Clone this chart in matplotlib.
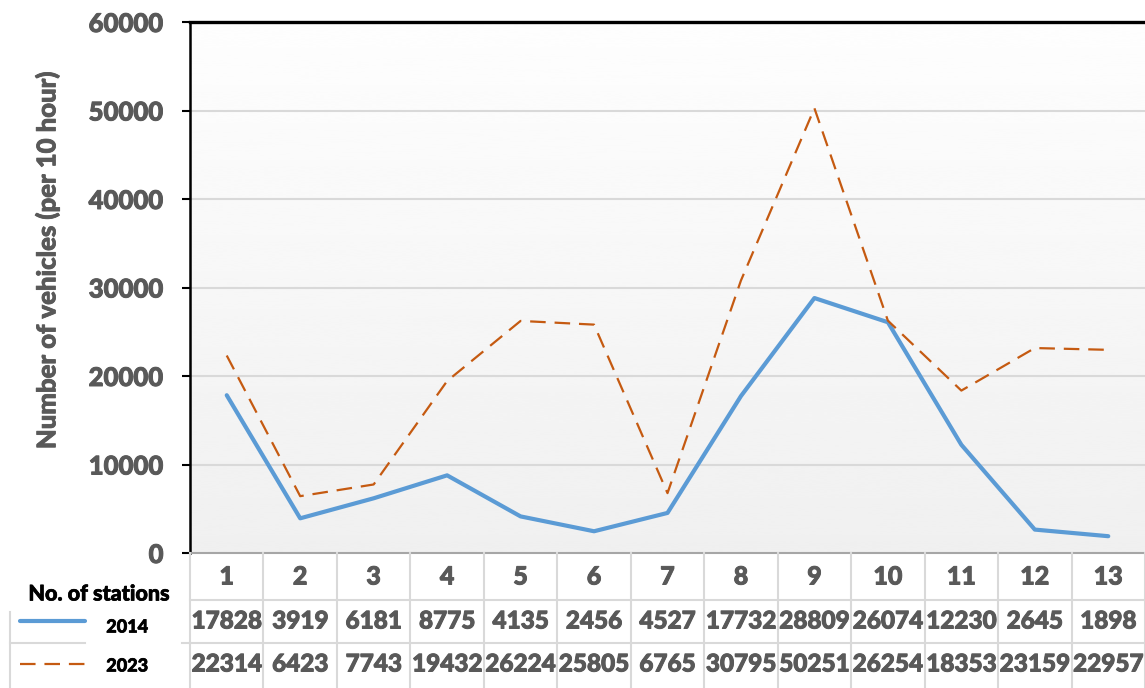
import numpy as np
import matplotlib
matplotlib.use("Agg")
import matplotlib.pyplot as plt
import matplotlib.patheffects as pe
from matplotlib.lines import Line2D

stations = ["1", "2", "3", "4", "5", "6", "7", "8", "9", "10", "11", "12", "13"]
vehicles_2014 = [17828, 3919, 6181, 8775, 4135, 2456, 4527, 17732, 28809, 26074, 12230, 2645, 1898]
vehicles_2023 = [22314, 6423, 7743, 19432, 26224, 25805, 6765, 30795, 50251, 26254, 18353, 23159, 22957]
series_names = ["2014", "2023"]
y_ticks = [0, 10000, 20000, 30000, 40000, 50000, 60000]

plt.rcParams['font.family'] = ['Lato', 'DejaVu Sans']
plt.rcParams['font.weight'] = 'black'

W, H = 1145, 688
fig = plt.figure(figsize=(W / 100, H / 100), dpi=100)

def fx(px):
    return px / W

def fy(py):
    return 1 - py / H

TXT = "#595959"
GRID = "#d9d9d9"
BLUE = "#5B9BD5"
ORANGE = "#C55A11"

def heavy(color, w=0.7):
    return [pe.withStroke(linewidth=w, foreground=color)]

x_left, x_right = 190, 1145
y_top, y_bottom = 22, 553
ax = fig.add_axes([fx(x_left), fy(y_bottom), fx(x_right - x_left), (y_bottom - y_top) / H])

n = len(stations)
x = np.arange(1, n + 1)
ax.set_xlim(0.5, n + 0.5)
ax.set_ylim(0, 60000)

# soft vertical gradient in the plot area
grad = np.linspace(0.94, 0.995, 256).reshape(-1, 1)
ax.imshow(grad, extent=[0.5, n + 0.5, 0, 60000], aspect='auto', origin='lower',
          cmap='gray', vmin=0, vmax=1, zorder=0, interpolation='bicubic')

for v in y_ticks[1:-1]:
    ax.axhline(v, color=GRID, lw=1.5, zorder=1)

ax.plot(x, vehicles_2014, color=BLUE, lw=3.0, solid_capstyle='round', zorder=3)
ax.plot(x, vehicles_2023, color=ORANGE, lw=1.6, ls=(0, (7, 4)), zorder=3)

ax.set_yticks(y_ticks)
ax.set_yticklabels([str(v) for v in y_ticks], fontsize=18.5, color=TXT, fontweight='black')
for t in ax.get_yticklabels():
    t.set_path_effects(heavy(TXT))
ax.tick_params(axis='y', length=6, width=1.5, color='black', pad=13)
ax.set_xticks([])
for s in ['right', 'bottom']:
    ax.spines[s].set_visible(False)
ax.spines['left'].set_linewidth(1.8)
ax.spines['top'].set_linewidth(2.4)

fig.text(fx(47), fy(260), "Number of vehicles (per 10 hour)", rotation=90,
         ha='center', va='center', fontsize=18.5, color=TXT, fontweight='black',
         path_effects=heavy(TXT, 0.6))

# data table below the plot
col_w = (x_right - x_left) / n
table_lines = [Line2D([fx(x_left), fx(x_right)], [fy(553), fy(553)], color="#a6a6a6", lw=1.5)]
for ry in [600, 643]:
    table_lines.append(Line2D([fx(x_left), fx(x_right)], [fy(ry), fy(ry)], color=GRID, lw=1.5))
for k in range(n + 1):
    xx = x_left + k * col_w
    table_lines.append(Line2D([fx(xx), fx(xx)], [fy(553), fy(688)], color=GRID, lw=1.5))
# legend cells on the left
table_lines.append(Line2D([fx(10), fx(10)], [fy(612), fy(688)], color=GRID, lw=1.5))
table_lines.append(Line2D([fx(10), fx(85)], [fy(643), fy(643)], color=GRID, lw=1.5))
table_lines.append(Line2D([fx(182), fx(190)], [fy(643), fy(643)], color=GRID, lw=1.5))
for ln in table_lines:
    fig.add_artist(ln)

row_centers = [577, 621, 664]
for k, lab in enumerate(stations):
    cx = x_left + (k + 0.5) * col_w
    fig.text(fx(cx), fy(row_centers[0]), lab, ha='center', va='center',
             fontsize=18, color=TXT, fontweight='black', path_effects=heavy(TXT))
    fig.text(fx(cx), fy(row_centers[1]), str(vehicles_2014[k]), ha='center', va='center',
             fontsize=17.5, color=TXT, fontweight='black', path_effects=heavy(TXT))
    fig.text(fx(cx), fy(row_centers[2]), str(vehicles_2023[k]), ha='center', va='center',
             fontsize=17.5, color=TXT, fontweight='black', path_effects=heavy(TXT))

fig.text(fx(99), fy(594), "No. of stations", ha='center', va='center',
         fontsize=15.5, color='black', fontweight='black', path_effects=heavy('black', 0.5))
fig.add_artist(Line2D([fx(20), fx(85)], [fy(621), fy(621)], color=BLUE, lw=3.0,
                      solid_capstyle='round'))
fig.add_artist(Line2D([fx(20), fx(85)], [fy(664), fy(664)], color=ORANGE, lw=1.6,
                      ls=(0, (7, 4))))
fig.text(fx(127), fy(627), series_names[0], ha='center', va='center',
         fontsize=13, color='black', fontweight='black', path_effects=heavy('black', 0.5))
fig.text(fx(127), fy(666), series_names[1], ha='center', va='center',
         fontsize=13, color='black', fontweight='black', path_effects=heavy('black', 0.5))

fig.savefig("out.png", dpi=100)
